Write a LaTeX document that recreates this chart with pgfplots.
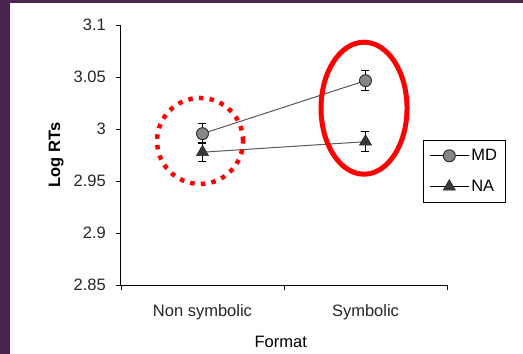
\documentclass[border=0pt]{standalone}
\usepackage{fontspec}
\setmainfont{Liberation Sans}
\usepackage{pgfplots}
\pgfplotsset{compat=1.18}
\definecolor{frame}{HTML}{4A2550}
\begin{document}
\fontsize{16.5}{19}\selectfont
\begin{tikzpicture}[x=1pt,y=1pt]
\useasboundingbox (0,0) rectangle (523,354);
\fill[frame] (0,0) rectangle (523,354);
\fill[white] (10,0) rectangle (523,350.5);
\begin{axis}[
  at={(121pt,69pt)}, anchor=south west,
  scale only axis, width=326pt, height=260pt,
  xmin=0, xmax=2, ymin=2.85, ymax=3.1,
  clip=false,
  axis lines=left, axis line style={-, black, line width=1pt},
  tick align=outside, major tick length=4.5pt,
  tick style={black, line width=0.9pt},
  ytick={2.85,2.9,2.95,3,3.05,3.1},
  yticklabels={2.85,2.9,2.95,3,3.05,3.1},
  xtick={0,1,2}, xticklabels={},
  extra x ticks={0.5,1.5},
  extra x tick labels={Non symbolic,Symbolic},
  extra x tick style={major tick length=0pt, tick style={draw=none}, xticklabel style={anchor=base, yshift=-31pt}},
  /pgf/number format/assume math mode=true,
  ticklabel style={text=black!85},
  yticklabel style={anchor=east, xshift=-5pt},
  ylabel={\bfseries Log RTs},
  ylabel style={at={(axis description cs:-0.199,0.5)}, anchor=center, rotate=0},
  xlabel={Format},
  xlabel style={at={(axis description cs:0.49,-0.219)}, anchor=center},
  legend style={at={(rel axis cs:0.926,0.558)}, anchor=north west, draw=black, line width=0.9pt,
    inner xsep=6pt, inner ysep=6.5pt, row sep=13pt, nodes={inner sep=2pt},
    /tikz/every even column/.append style={column sep=1pt}},
  legend cell align=left,
  legend image code/.code={\draw[#1, black, mark repeat=2, mark phase=2] plot coordinates {(0pt,0pt) (19.5pt,0pt) (39pt,0pt)};},
]
\addplot[color=black!65, line width=1pt, mark=*, mark size=6pt,
  mark options={fill=gray!95, draw=black!85, line width=0.9pt},
  error bars/.cd, y dir=both, y explicit,
  error bar style={black, line width=0.9pt},
  error mark options={rotate=90, mark size=4pt, black, line width=0.9pt}]
  coordinates {(0.5,2.9955) +- (0,0.0097) (1.5,3.0465) +- (0,0.0099)};
\addlegendentry{MD}
\addplot[color=black!65, line width=1pt, mark=triangle*, mark size=7pt,
  mark options={fill=black!78, draw=black!85, line width=0.6pt},
  error bars/.cd, y dir=both, y explicit,
  error bar style={black, line width=0.9pt},
  error mark options={rotate=90, mark size=4pt, black, line width=0.9pt}]
  coordinates {(0.5,2.9777) +- (0,0.009) (1.5,2.9878) +- (0,0.0095)};
\addlegendentry{NA}
\draw[red, line width=4.5pt, dash pattern=on 4.5pt off 6.2pt] (axis cs:0.485,2.9885) circle [radius=43pt];
\draw[red, line width=5pt] (axis cs:1.491,3.02) ellipse [x radius=43pt, y radius=66pt];
\end{axis}
\end{tikzpicture}
\end{document}
